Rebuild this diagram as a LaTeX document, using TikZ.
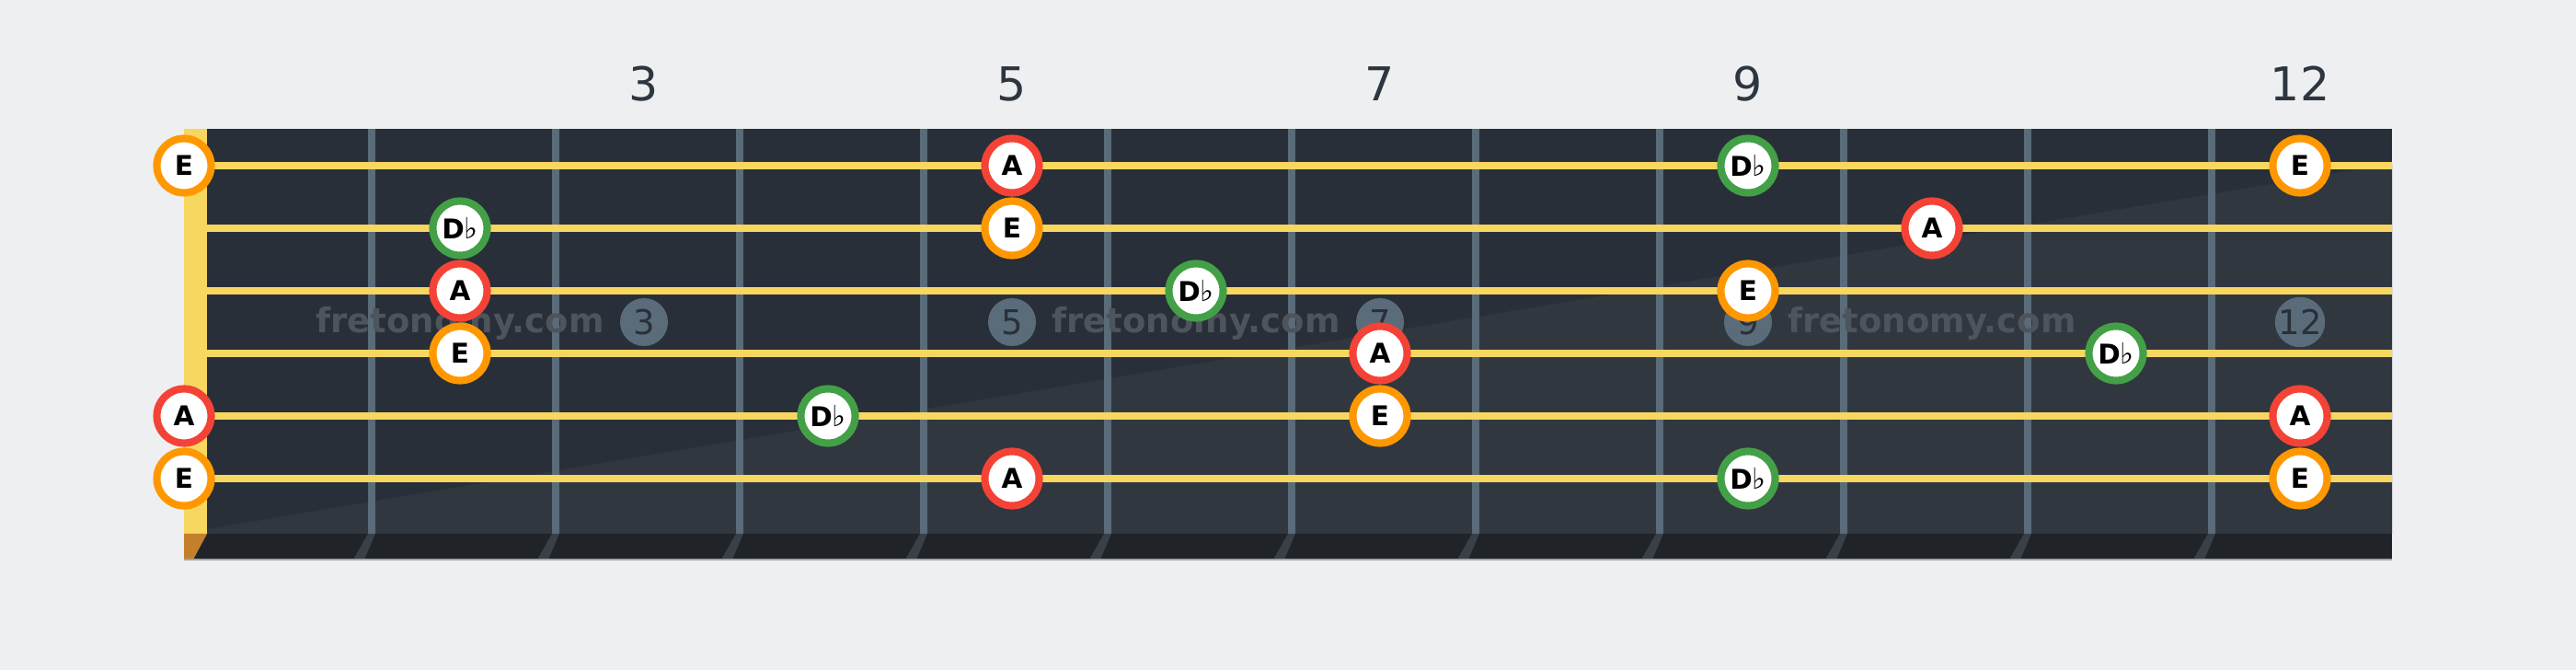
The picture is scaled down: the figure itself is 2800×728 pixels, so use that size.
\documentclass[tikz,border=0pt]{standalone}
\usepackage{fontspec}
\setmainfont{DejaVu Sans}
\usetikzlibrary{positioning}
\definecolor{bgGray}{HTML}{EEEFF1}
\definecolor{boardDark}{HTML}{282F38}
\definecolor{boardLight}{HTML}{30373F}
\definecolor{boardEdge}{HTML}{202428}
\definecolor{fretShade}{HTML}{3A4048}
\definecolor{fretWire}{HTML}{5A6B7A}
\definecolor{stringYel}{HTML}{F7D760}
\definecolor{nutBrown}{HTML}{C47F2C}
\definecolor{ringE}{HTML}{FF9800}
\definecolor{ringA}{HTML}{F44336}
\definecolor{ringD}{HTML}{43A047}
\definecolor{numText}{HTML}{2D3640}
\definecolor{markText}{HTML}{2A3038}
\definecolor{waterText}{HTML}{4D545C}
\newcommand*{\boardL}{225}
\newcommand*{\boardR}{2600}
\newcommand*{\boardT}{140}
\newcommand*{\boardB}{580}
\newcommand*{\edgeB}{608}
\newcommand*{\flatD}{D{\mdseries\fontsize{9}{9}\selectfont ♭}}
\tikzset{
	note/.style={circle,fill=white,line width=2.3pt,minimum size=0.59cm,inner sep=0pt,
		font=\bfseries\fontsize{8.4}{8.4}\selectfont},
	noteE/.style={note,draw=ringE},
	noteA/.style={note,draw=ringA},
	noteD/.style={note,draw=ringD},
	inlay/.style={circle,fill=fretWire,minimum size=0.52cm,inner sep=0pt,text=markText,
		font=\fontsize{10.5}{10.5}\selectfont},
	fretnum/.style={text=numText,font=\fontsize{14.4}{14.4}\selectfont},
	watermark/.style={text=waterText,font=\bfseries\fontsize{10.5}{10.5}\selectfont}
}
\begin{document}
\begin{tikzpicture}[x=0.01cm,y=-0.01cm]
	\fill[bgGray] (0,0) rectangle (2800,728);
	\useasboundingbox (0,0) rectangle (2800,728);
	
	\fill[boardDark] (\boardL,\boardT) rectangle (\boardR,\boardB);
	\fill[boardLight] (\boardL,\boardB-5) -- (\boardR,178) -- (\boardR,\boardB) -- (\boardL,\boardB) -- cycle;
	\fill[stringYel] (200,\boardT) rectangle (\boardL,\boardB);
	
	\foreach \k in {0,...,10}
		\fill[fretWire] (400+200*\k,\boardT) rectangle (408+200*\k,\boardB);
	
	\fill[boardEdge] (200,\boardB) rectangle (\boardR,\edgeB);
	\fill[nutBrown] (200,\boardB) -- (\boardL,\boardB) -- (210,\edgeB) -- (200,\edgeB) -- cycle;
	\foreach \k in {0,...,10}
		\fill[fretShade] (400+200*\k,\boardB) -- (408+200*\k,\boardB) -- (396+200*\k,\edgeB) -- (384+200*\k,\edgeB) -- cycle;
	\draw[gray!70,line width=0.6pt] (200,\edgeB) -- (\boardR,\edgeB);
	
	\foreach \f in {3,5,7,9,12} {
		\node[fretnum] (num\f) at (100+200*\f,91) {\f};
		\node[inlay] (mark\f) at (100+200*\f,350) {\f};
	}
	
	\node[watermark] (wm1) at (500,351) {fretonomy.com};
	\node[watermark] (wm2) at (1300,351) {fretonomy.com};
	\node[watermark] (wm3) at (2100,351) {fretonomy.com};
	
	\foreach \s in {1,...,6}
		\fill[stringYel] (\boardL,176+68*\s-68) rectangle (\boardR,184+68*\s-68);
	
	\node[noteE] (s1f0) at (200,180) {E};
	\node[noteA] (s1f5) at (1100,180) {A};
	\node[noteD] (s1f9) at (1900,180) {\flatD};
	\node[noteE] (s1f12) at (2500,180) {E};
	
	\node[noteD] (s2f2) at (500,248) {\flatD};
	\node[noteE] (s2f5) at (1100,248) {E};
	\node[noteA] (s2f10) at (2100,248) {A};
	
	\node[noteA] (s3f2) at (500,316) {A};
	\node[noteD] (s3f6) at (1300,316) {\flatD};
	\node[noteE] (s3f9) at (1900,316) {E};
	
	\node[noteE] (s4f2) at (500,384) {E};
	\node[noteA] (s4f7) at (1500,384) {A};
	\node[noteD] (s4f11) at (2300,384) {\flatD};
	
	\node[noteA] (s5f0) at (200,452) {A};
	\node[noteD] (s5f4) at (900,452) {\flatD};
	\node[noteE] (s5f7) at (1500,452) {E};
	\node[noteA] (s5f12) at (2500,452) {A};
	
	\node[noteE] (s6f0) at (200,520) {E};
	\node[noteA] (s6f5) at (1100,520) {A};
	\node[noteD] (s6f9) at (1900,520) {\flatD};
	\node[noteE] (s6f12) at (2500,520) {E};
\end{tikzpicture}
\end{document}
